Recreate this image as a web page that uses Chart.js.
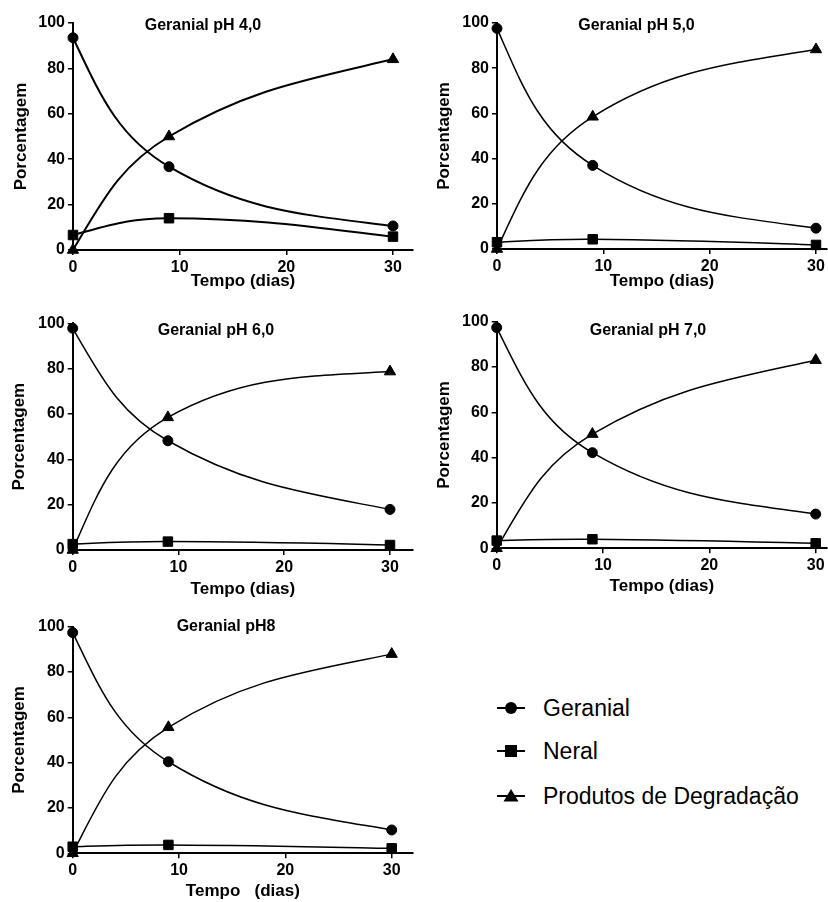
<!DOCTYPE html>
<html>
<head>
<meta charset="utf-8">
<script src="https://cdn.jsdelivr.net/npm/chart.js@4.4.1/dist/chart.umd.min.js"></script>
<style>
  body{margin:0;background:#fff;}
  #wrap{position:relative;width:828px;height:902px;overflow:hidden;font-family:"Liberation Sans",Arial,sans-serif;color:#000;}
  #wrap canvas{position:absolute;}
  .titulo{position:absolute;transform:translate(-50%,-50%);font-weight:bold;font-size:16px;white-space:nowrap;}
  .item{position:absolute;left:494px;height:30px;display:flex;align-items:center;transform:translateY(-50%);}
  .item canvas{position:static !important;}
  .item span{margin-left:17px;font-size:23px;white-space:nowrap;}
</style>
</head>
<body>
<div id="wrap"></div>
<script>
// dados (dias de armazenamento x porcentagem)
const dias = [0, 9, 30];
const xTicks = [0, 10, 20, 30];
const yTicks = [0, 20, 40, 60, 80, 100];
const titulos = ['Geranial pH 4,0', 'Geranial pH 5,0', 'Geranial pH 6,0', 'Geranial pH 7,0', 'Geranial pH8'];
const eixoX = ['Tempo (dias)', 'Tempo (dias)', 'Tempo (dias)', 'Tempo (dias)', 'Tempo   (dias)'];
const eixoY = 'Porcentagem';
const series = ['Geranial', 'Neral', 'Produtos de Degradação'];

const geranial = [
  [93.5, 36.7, 10.6],
  [97.6, 37.0, 9.2],
  [97.8, 48.2, 17.9],
  [97.4, 42.2, 15.1],
  [97.4, 40.4, 10.3]
];
const neral = [
  [6.6, 14.0, 5.9],
  [3.0, 4.3, 1.8],
  [2.6, 3.7, 2.2],
  [3.4, 4.0, 2.2],
  [2.9, 3.7, 2.2]
];
const produtos = [
  [0, 50.0, 84.0],
  [0, 58.5, 88.3],
  [0, 58.5, 78.7],
  [0, 50.4, 83.0],
  [0, 55.6, 87.9]
];

// posição de cada gráfico na página
const paineis = [
  {left:0,   top:0,   w:414, h:300, x0:73,    x30:393,   right:413, areaTop:23,    bottom:250,   yTit:21.7,  xTit:281.7, tx:203,   ty:25,  lw:2},
  {left:414, top:0,   w:414, h:300, x0:497,   x30:816,   right:827, areaTop:23,    bottom:249,   yTit:444.3, xTit:281.7, tx:636.5, ty:25,  lw:1.5},
  {left:0,   top:300, w:414, h:305, x0:72.7,  x30:390,   right:413, areaTop:323.3, bottom:550,   yTit:19.2,  xTit:589,   tx:216,   ty:330, lw:1.5},
  {left:414, top:300, w:414, h:305, x0:496.7, x30:815.7, right:827, areaTop:321.7, bottom:548.3, yTit:444.3, xTit:586.7, tx:648,   ty:330, lw:1.5},
  {left:0,   top:605, w:414, h:297, x0:72.7,  x30:391.7, right:413, areaTop:626.7, bottom:853.3, yTit:19.2,  xTit:892,   tx:226,   ty:626, lw:1.5}
];

const simbolos = [
  {style:'circle', r:5},
  {style:'rect', r:6.7},
  {style:'triangle', r:6.5}
];

Chart.defaults.font.family = '"Liberation Sans", Arial, sans-serif';
Chart.defaults.color = '#000';

// nas pontas, a tangente fica a meio caminho entre a corda (padrão do Chart.js)
// e o espelho da tangente do ponto vizinho, o que dá uma curva mais suave
const MISTURA = 0.5;

function espelho(vx, vy, cx, cy) {
  const n = Math.hypot(cx, cy) || 1;
  const ux = cx / n, uy = cy / n;
  const d = vx * ux + vy * uy;
  return [2 * d * ux - vx, 2 * d * uy - vy];
}

const arcoNasPontas = {
  id: 'arcoNasPontas',
  beforeDatasetsDraw(chart) {
    chart.getSortedVisibleDatasetMetas().forEach(meta => {
      const pts = meta.data;
      if (pts.length < 3) return;
      meta.dataset.updateControlPoints(chart.chartArea, meta.indexAxis);
      const a = pts[0], b = pts[1];
      let w = espelho(b.x - b.cp1x, b.y - b.cp1y, b.x - a.x, b.y - a.y);
      a.cp2x += MISTURA * (a.x + w[0] - a.cp2x);
      a.cp2y += MISTURA * (a.y + w[1] - a.cp2y);
      const m = pts[pts.length - 2], z = pts[pts.length - 1];
      w = espelho(m.cp2x - m.x, m.cp2y - m.y, z.x - m.x, z.y - m.y);
      z.cp1x += MISTURA * (z.x - w[0] - z.cp1x);
      z.cp1y += MISTURA * (z.y - w[1] - z.cp1y);
      meta.dataset._path = undefined;
    });
  }
};

const wrap = document.getElementById('wrap');
const fonteEixo = {size:17, weight:'bold', lineHeight:1.2};

function pontos(vals){
  return dias.map((d, k) => ({x:d, y:vals[k]}));
}

function serie(nome, vals, sim, lw){
  return {
    label: nome,
    data: pontos(vals),
    borderColor: '#000',
    borderWidth: lw,
    backgroundColor: '#000',
    pointStyle: sim.style,
    pointRadius: sim.r,
    pointBackgroundColor: '#000',
    pointBorderColor: '#000',
    pointBorderWidth: 1,
    tension: 0.4,
    clip: false
  };
}

paineis.forEach((p, i) => {
  const cv = document.createElement('canvas');
  cv.width = p.w; cv.height = p.h;
  cv.style.left = p.left + 'px'; cv.style.top = p.top + 'px';
  cv.style.width = p.w + 'px'; cv.style.height = p.h + 'px';
  wrap.appendChild(cv);

  const pxPorDia = (p.x30 - p.x0) / 30;
  const xMax = 30 + (p.right - p.x30) / pxPorDia;
  const lh = fonteEixo.size * fonteEixo.lineHeight;

  const eixo = {
    border: {display:true, color:'#000', width:2},
    grid: {display:true, drawOnChartArea:false, drawTicks:true, tickLength:5, color:'#000', lineWidth:1.5},
    ticks: {color:'#000', font:{size:16, weight:'bold'}, padding:3}
  };

  new Chart(cv, {
    type: 'line',
    data: {
      datasets: [
        serie(series[0], geranial[i], simbolos[0], p.lw),
        serie(series[1], neral[i], simbolos[1], p.lw),
        serie(series[2], produtos[i], simbolos[2], p.lw)
      ]
    },
    options: {
      responsive: false,
      animation: false,
      devicePixelRatio: 1,
      events: [],
      layout: {autoPadding:false, padding:{top:p.areaTop - p.top, right:p.left + p.w - p.right, left:0, bottom:0}},
      plugins: {legend:{display:false}, tooltip:{enabled:false}},
      scales: {
        x: Object.assign({}, eixo, {
          type: 'linear', min: 0, max: xMax,
          afterBuildTicks: ax => { ax.ticks = xTicks.map(v => ({value:v})); },
          afterFit: s => { s.height = p.top + p.h - p.bottom; },
          title: {display:true, text:eixoX[i], color:'#000', font:fonteEixo,
                  padding:{top:0, bottom:Math.max(0, p.top + p.h - lh / 2 - p.xTit)}}
        }),
        y: Object.assign({}, eixo, {
          type: 'linear', min: 0, max: 100,
          afterBuildTicks: ax => { ax.ticks = yTicks.map(v => ({value:v})); },
          afterFit: s => { s.width = p.x0 - p.left; },
          title: {display:true, text:eixoY, color:'#000', font:fonteEixo,
                  padding:{top:p.yTit - p.left - lh / 2, bottom:0}}
        })
      }
    },
    plugins: [arcoNasPontas]
  });

  const t = document.createElement('div');
  t.className = 'titulo';
  t.textContent = titulos[i];
  t.style.left = p.tx + 'px';
  t.style.top = p.ty + 'px';
  wrap.appendChild(t);
});

// legenda: linha com o símbolo de cada série
const legendaY = [708, 751, 796];
series.forEach((nome, k) => {
  const item = document.createElement('div');
  item.className = 'item';
  item.style.top = legendaY[k] + 'px';
  const c = document.createElement('canvas');
  c.width = 32; c.height = 20;
  c.style.width = '32px'; c.style.height = '20px';
  const ctx = c.getContext('2d');
  ctx.strokeStyle = '#000'; ctx.fillStyle = '#000'; ctx.lineWidth = 2;
  ctx.beginPath(); ctx.moveTo(3, 10); ctx.lineTo(31, 10); ctx.stroke();
  ctx.beginPath();
  if (k === 0) {
    ctx.arc(17, 10, 6, 0, Math.PI * 2);
  } else if (k === 1) {
    ctx.rect(11, 4, 12, 12);
  } else {
    ctx.moveTo(17, 3); ctx.lineTo(24.5, 15.5); ctx.lineTo(9.5, 15.5); ctx.closePath();
  }
  ctx.fill();
  item.appendChild(c);
  const s = document.createElement('span');
  s.textContent = nome;
  item.appendChild(s);
  wrap.appendChild(item);
});
</script>
</body>
</html>
